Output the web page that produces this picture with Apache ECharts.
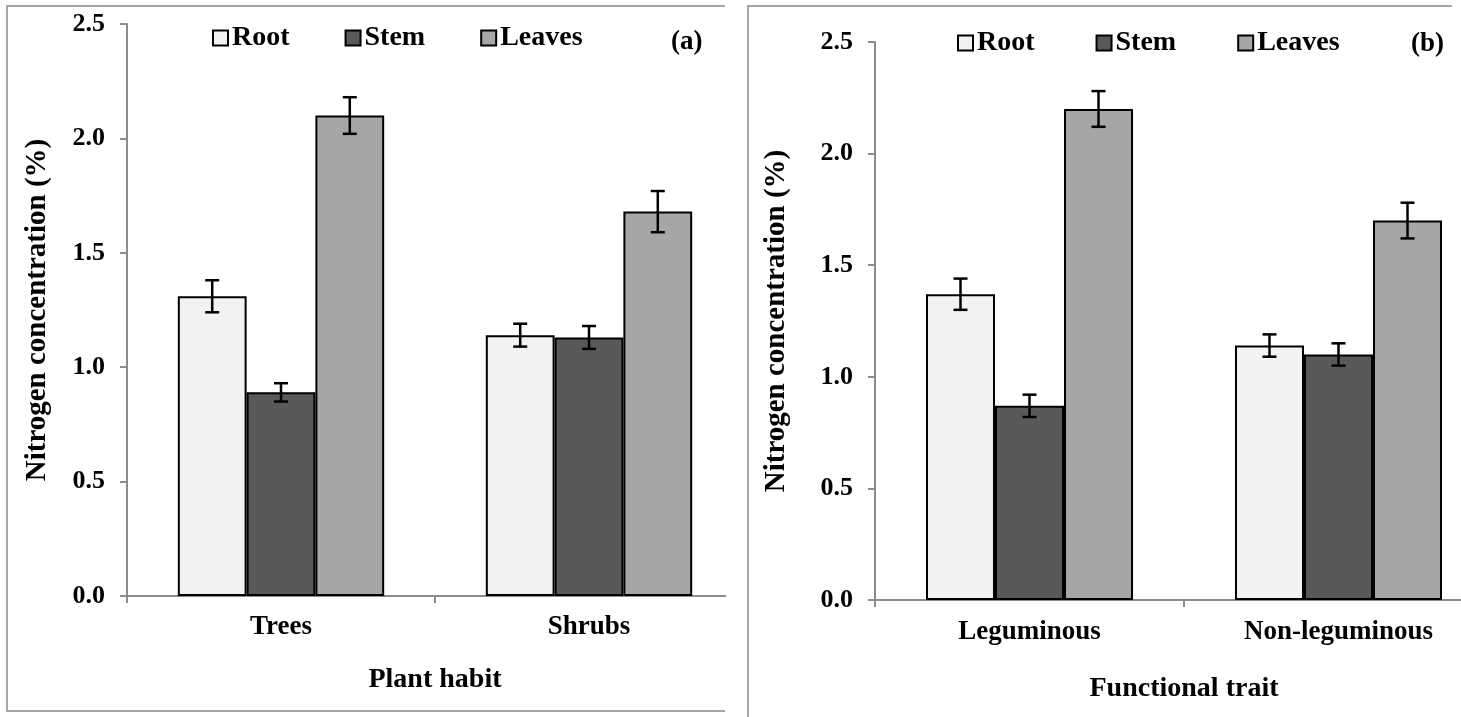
<!DOCTYPE html>
<html>
<head>
<meta charset="utf-8">
<script src="https://cdn.jsdelivr.net/npm/echarts@6/dist/echarts.min.js"></script>
<style>
  html, body { margin: 0; padding: 0; background: #fff; }
  #chart { width: 1461px; height: 717px; }
</style>
</head>
<body>
<div id="chart"></div>
<script>
// panel (a): plant habit
const habitCats = ["Trees", "Shrubs"];
const habitRoot = [1.31, 1.14];
const habitStem = [0.89, 1.13];
const habitLeaves = [2.10, 1.68];
const habitRootErr = [0.07, 0.05];
const habitStemErr = [0.04, 0.05];
const habitLeavesErr = [0.08, 0.09];

// panel (b): functional trait
const traitCats = ["Leguminous", "Non-leguminous"];
const traitRoot = [1.37, 1.14];
const traitStem = [0.87, 1.10];
const traitLeaves = [2.20, 1.70];
const traitRootErr = [0.07, 0.05];
const traitStemErr = [0.05, 0.05];
const traitLeavesErr = [0.08, 0.08];

const yTicks = [0, 0.5, 1.0, 1.5, 2.0, 2.5];

const FONT = "'Liberation Serif', 'Times New Roman', serif";
const AXIS_GRAY = "#8c8c8c";
const colors = { Root: "#F2F2F2", Stem: "#595959", Leaves: "#A6A6A6" };
const CAT_GAP = 0.33;

const textBase = { fontFamily: FONT, fontWeight: "bold", color: "#000" };

// error bar drawn at the centre of the n-th bar in each group
const errRender = (pos) => (params, api) => {
  const x = api.value(0);
  const lo = api.coord([x, api.value(1)]);
  const hi = api.coord([x, api.value(2)]);
  const band = api.size([1, 0])[0];
  const bw = (band * (1 - CAT_GAP)) / 3;
  const cx = lo[0] + (pos - 1) * bw;
  const cap = 7;
  const style = { stroke: "#000", lineWidth: 2.5 };
  return {
    type: "group",
    children: [
      { type: "line", shape: { x1: cx, y1: lo[1], x2: cx, y2: hi[1] }, style },
      { type: "line", shape: { x1: cx - cap, y1: hi[1], x2: cx + cap, y2: hi[1] }, style },
      { type: "line", shape: { x1: cx - cap, y1: lo[1], x2: cx + cap, y2: lo[1] }, style },
    ],
  };
};

const barSeries = (name, values, idx) => ({
  type: "bar",
  name,
  xAxisIndex: idx,
  yAxisIndex: idx,
  data: values,
  barGap: "0%",
  barCategoryGap: CAT_GAP * 100 + "%",
  itemStyle: { color: colors[name], borderColor: "#000", borderWidth: 2 },
  emphasis: { disabled: true },
});

const errSeries = (values, errs, pos, idx) => ({
  type: "custom",
  name: "err",
  xAxisIndex: idx,
  yAxisIndex: idx,
  renderItem: errRender(pos),
  data: values.map((v, i) => [i, v - errs[i], v + errs[i]]),
  encode: { x: 0, y: [1, 2] },
  z: 10,
  silent: true,
});

const xAxisCfg = (cats, idx, name, gap, labelMargin) => ({
  type: "category",
  gridIndex: idx,
  data: cats,
  name,
  nameLocation: "middle",
  nameGap: gap,
  nameTextStyle: { ...textBase, fontSize: 28 },
  axisLine: { lineStyle: { color: AXIS_GRAY, width: 2 } },
  axisTick: { show: true, length: 7, lineStyle: { color: AXIS_GRAY, width: 2 } },
  axisLabel: { ...textBase, fontSize: 27, margin: labelMargin },
  splitLine: { show: false },
});

const yAxisCfg = (idx, gap) => ({
  type: "value",
  gridIndex: idx,
  min: yTicks[0],
  max: yTicks[yTicks.length - 1],
  interval: 0.5,
  name: "Nitrogen concentration (%)",
  nameLocation: "middle",
  nameGap: gap,
  nameTextStyle: { ...textBase, fontSize: 29 },
  axisLine: { show: true, lineStyle: { color: AXIS_GRAY, width: 2 } },
  axisTick: { show: true, length: 7, lineStyle: { color: AXIS_GRAY, width: 2 } },
  axisLabel: { ...textBase, fontSize: 26, margin: 22, formatter: (v) => v.toFixed(1) },
  splitLine: { show: false },
});

const legendCfg = (left, top, gap) => ({
  data: ["Root", "Stem", "Leaves"],
  left,
  top,
  icon: "rect",
  itemWidth: 15,
  itemHeight: 15,
  itemGap: gap,
  selectedMode: false,
  textStyle: { ...textBase, fontSize: 28, padding: [0, 0, 0, -1] },
});

const chart = echarts.init(document.getElementById("chart"));

const option = {
  animation: false,
  backgroundColor: "#fff",
  grid: [
    { left: 127, right: 718, top: 24, bottom: 121 },
    // this grid runs past the right edge, as in the cropped original
    { left: 875, width: 618, top: 42, bottom: 117, outerBoundsMode: "none" },
  ],
  legend: [legendCfg(207, 19, 55), legendCfg(952, 24, 61)],
  xAxis: [
    xAxisCfg(habitCats, 0, "Plant habit", 70, 18),
    xAxisCfg(traitCats, 1, "Functional trait", 75, 19),
  ],
  yAxis: [yAxisCfg(0, 75), yAxisCfg(1, 84)],
  series: [
    barSeries("Root", habitRoot, 0),
    barSeries("Stem", habitStem, 0),
    barSeries("Leaves", habitLeaves, 0),
    errSeries(habitRoot, habitRootErr, 0, 0),
    errSeries(habitStem, habitStemErr, 1, 0),
    errSeries(habitLeaves, habitLeavesErr, 2, 0),
    barSeries("Root", traitRoot, 1),
    barSeries("Stem", traitStem, 1),
    barSeries("Leaves", traitLeaves, 1),
    errSeries(traitRoot, traitRootErr, 0, 1),
    errSeries(traitStem, traitStemErr, 1, 1),
    errSeries(traitLeaves, traitLeavesErr, 2, 1),
  ],
  graphic: [
    // hide the part of panel (a)'s axis that runs past its frame
    { type: "rect", z: 100, shape: { x: 726, y: 0, width: 19, height: 717 }, style: { fill: "#fff" } },
    // panel frames
    { type: "polyline", z: 101, shape: { points: [[725, 6], [7, 6], [7, 711], [725, 711]] },
      style: { stroke: "#a6a6a6", lineWidth: 2, fill: null } },
    { type: "polyline", z: 101, shape: { points: [[748, 717], [748, 6], [1452, 6]] },
      style: { stroke: "#a6a6a6", lineWidth: 2, fill: null } },
    { type: "text", z: 101, left: 671, top: 29, style: { text: "(a)", font: "bold 27px " + FONT, fill: "#000" } },
    { type: "text", z: 101, left: 1411, top: 31, style: { text: "(b)", font: "bold 27px " + FONT, fill: "#000" } },
  ],
};

chart.setOption(option);
</script>
</body>
</html>
